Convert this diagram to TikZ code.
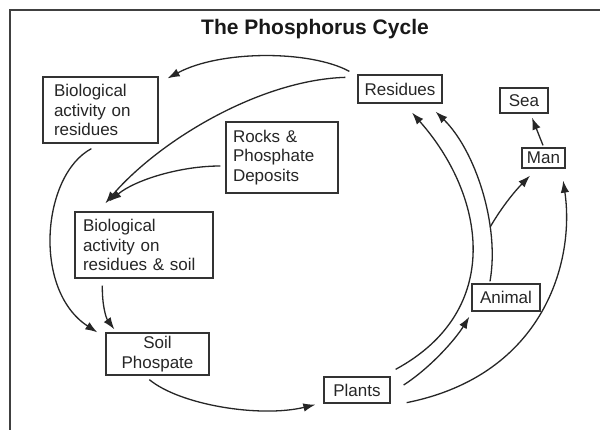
\documentclass[tikz,border=0pt]{standalone}
\usepackage{fontspec}
\setmainfont{Liberation Sans}
\usetikzlibrary{arrows.meta}
\begin{document}
\begin{tikzpicture}[x=1pt,y=-1pt,
  box/.style={draw=black!80, line width=1.3pt, rectangle, inner sep=0pt,
    font=\fontsize{17}{19.5}\selectfont, text=black!85},
  arr/.style={draw=black!85, line width=1.3pt, -{Latex[length=12pt,width=8.5pt]}},
]
\useasboundingbox (0,0) rectangle (600,430);
\fill[white] (0,0) rectangle (600,430);
\draw[black!75, line width=1.5pt] (10,430) -- (10,10) -- (600,10);
\node[font=\bfseries\fontsize{21}{24}\selectfont, text=black!90] (title) at (315,29) {The Phosphorus Cycle};

\node[box, minimum width=115pt, minimum height=66pt, text width=93pt, align=left] (bio1) at (100.5,110)
  {Biological\\activity on\\residues};
\node[box, minimum width=138pt, minimum height=66pt, text width=122pt, align=left] (bio2) at (144,245)
  {Biological\\activity on\\residues \& soil};
\node[box, minimum width=112pt, minimum height=71pt, text width=98pt, align=left] (rocks) at (282,157.5)
  {Rocks \&\\Phosphate\\Deposits};
\node[box, minimum width=84pt, minimum height=28pt] (res) at (400,89) {Residues};
\node[box, minimum width=48pt, minimum height=25pt] (sea) at (524,100.5) {Sea};
\node[box, minimum width=43pt, minimum height=20pt] (man) at (543.5,158) {Man};
\node[box, minimum width=103pt, minimum height=42pt, align=center] (soil) at (157.5,354) {Soil\\Phospate};
\node[box, minimum width=66pt, minimum height=26pt] (plants) at (357,390) {Plants};
\node[box, minimum width=68pt, minimum height=27pt] (animal) at (506,297.5) {Animal};

% Residues -> Bio1
\draw[arr] ([shift={(-8,-3)}]res.north west) .. controls (310,50) and (220,50) .. ([shift={(9,2)}]bio1.north east);
% Residues -> Bio2
\draw[arr] ([shift={(-12,3)}]res.north west) .. controls (260,80) and (160,140) .. ([shift={(31,-8)}]bio2.north west);
% Rocks -> Bio2
\draw[arr] ([shift={(-5,8.5)}]rocks.west) .. controls (180,166) and (135,180) .. ([shift={(35,-10)}]bio2.north west);
% Bio1 -> Soil
\draw[arr] ([shift={(49,5)}]bio1.south west) .. controls (42,175) and (32,290) .. ([shift={(-8,0)}]soil.north west);
% Bio2 -> Soil
\draw[arr] ([shift={(28,7)}]bio2.south west) .. controls (102,305) and (106,318) .. ([shift={(9,-3)}]soil.north west);
% Soil -> Plants
\draw[arr] ([shift={(44,4)}]soil.south west) .. controls (180,405) and (260,418) .. ([shift={(-8,1)}]plants.south west);
% Plants -> Residues
\draw[arr] ([shift={(5,-7)}]plants.north east) .. controls (505,310) and (485,195) .. ([shift={(12,9)}]res.south);
% Animal -> Residues (with branch to Man)
\draw[arr] ([shift={(-16,-2)}]animal.north) .. controls (500,225) and (475,150) .. coordinate[pos=0.3] (br) ([shift={(-7,8)}]res.south east);
\draw[arr] (br) .. controls (503,205) and (516,190) .. ([shift={(-13.5,7)}]man.south);
% Plants -> Animal
\draw[arr] ([shift={(13,-5)}]plants.east) .. controls (430,368) and (455,340) .. ([shift={(-2,5)}]animal.south west);
% Plants -> Man
\draw[arr] ([shift={(16,-1)}]plants.south east) .. controls (545,375) and (575,260) .. ([shift={(-2.5,12)}]man.south east);
% Man -> Sea
\draw[arr] ([shift={(-0.5,-2)}]man.north) -- ([shift={(8,4)}]sea.south);
\end{tikzpicture}
\end{document}
